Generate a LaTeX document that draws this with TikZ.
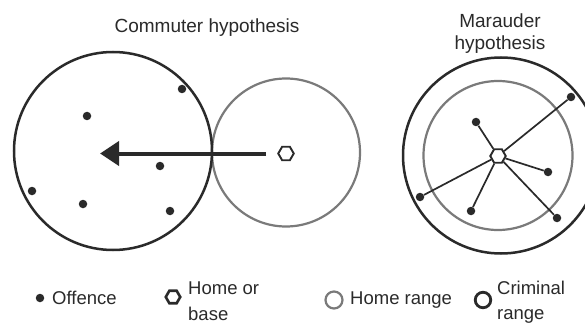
\documentclass[tikz,border=0pt]{standalone}
\usepackage{fontspec}
\setmainfont{Liberation Sans}
\usetikzlibrary{shapes.geometric,arrows.meta}
\definecolor{ink}{HTML}{2A2A2A}
\definecolor{rangegray}{HTML}{7A7A7A}
\tikzset{
  crimring/.style={circle, draw=ink, line width=2.5pt, inner sep=0pt},
  homering/.style={circle, draw=rangegray, line width=2.2pt, inner sep=0pt},
  offence/.style={circle, fill=ink, inner sep=0pt, minimum size=8.5pt},
  homebase/.style={regular polygon, regular polygon sides=6, draw=ink, line width=1.9pt, inner sep=0pt, minimum size=15.5pt, fill=white},
  link/.style={draw=ink, line width=1.7pt},
  titletext/.style={font=\fontsize{19}{22}\selectfont, text=ink, inner sep=0pt},
  legendtext/.style={font=\fontsize{18.5}{22}\selectfont, text=ink, inner sep=0pt, anchor=base west},
  commute/.style={draw=ink, line width=4pt, -{Triangle[length=19pt,width=24pt]}}
}
\begin{document}
\begin{tikzpicture}[x=1pt,y=-1pt]
\fill[white] (0,0) rectangle (585,323);
\useasboundingbox (0,0) rectangle (585,323);
\clip (0,0) rectangle (585,323);

% titles
\node[titletext, anchor=base] (t1) at (207,33) {Commuter hypothesis};
\node[titletext, anchor=base] (t2) at (500,28) {Marauder};
\node[titletext, anchor=base] (t3) at (500,50) {hypothesis};

% commuter
\node[homering, minimum size=148pt] (hr1) at (286,152.5) {};
\node[crimring, minimum size=198pt] (cr1) at (113,151) {};
\node[homebase] (h1) at (286,153.5) {};
\coordinate (tip) at (100,153.5);
\draw[commute, shorten <=11pt] (h1) -- (tip);
\node[offence] (c1) at (182,89) {};
\node[offence] (c2) at (87,116) {};
\node[offence] (c3) at (160,166) {};
\node[offence] (c4) at (32,191) {};
\node[offence] (c5) at (83,204) {};
\node[offence] (c6) at (170,211) {};

% marauder
\node[homering, minimum size=149pt] (hr2) at (498,155.5) {};
\node[crimring, minimum size=196pt] (cr2) at (501,155.5) {};
\node[homebase] (h2) at (498,156) {};
\node[offence] (m1) at (571,97) {};
\node[offence] (m2) at (476,122) {};
\node[offence] (m3) at (548,172) {};
\node[offence] (m4) at (420,197) {};
\node[offence] (m5) at (471,211) {};
\node[offence] (m6) at (557,218) {};
\foreach \m in {m1,m2,m3,m4,m5,m6} \draw[link] (h2) -- (\m);

% legend
\node[offence] (lgdot) at (40,298) {};
\node[legendtext] (lgoff) at (52,304) {Offence};
\node[homebase, line width=2.6pt, minimum size=14.5pt] (lghex) at (173,297) {};
\node[legendtext] (lghome1) at (188,294) {Home or};
\node[legendtext] (lghome2) at (188,320) {base};
\node[homering, minimum size=17pt] (lghr) at (334,300) {};
\node[legendtext] (lghrt) at (350,304) {Home range};
\node[crimring, line width=2.8pt, minimum size=15.5pt] (lgcr) at (483,300) {};
\node[legendtext] (lgcr1) at (497,294) {Criminal};
\node[legendtext] (lgcr2) at (497,319) {range};
\end{tikzpicture}
\end{document}
